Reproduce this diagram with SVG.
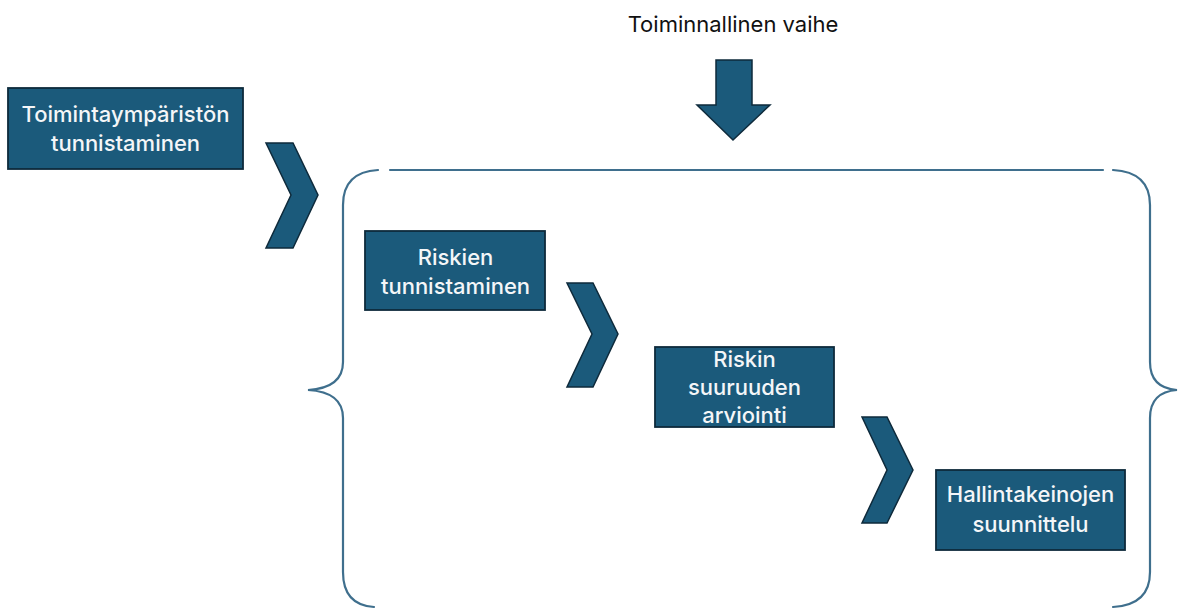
<svg xmlns="http://www.w3.org/2000/svg" width="1179" height="610" viewBox="0 0 1179 610">
<style>
.box{fill:#1b5a7b;stroke:#0e2a3b;stroke-width:1.8}
.chev{fill:#1b5a7b;stroke:#0e2a3b;stroke-width:1.5;stroke-linejoin:miter}
.lbl{font-family:Inter,"Liberation Sans",Arial,sans-serif;font-size:22px;font-weight:500;fill:#f4f6f8;text-anchor:middle}
.title{font-family:Inter,"Liberation Sans",Arial,sans-serif;font-size:22px;fill:#111;text-anchor:middle}
.brace{fill:none;stroke:#3f6f8d;stroke-width:2.2;stroke-linecap:round}
</style>
<rect width="1179" height="610" fill="#ffffff"/>
<text class="title" x="733" y="32">Toiminnallinen vaihe</text>
<g id="connectors">
  <polygon class="chev" points="716,60 752,60 752,105 770,105 733,140 697,105 716,105"/>
  <polygon class="chev" points="266,143 293,143 318,195 293,248 266,248 291,195"/>
  <polygon class="chev" points="567,283 593,283 618,334 593,387 567,387 592,334"/>
  <polygon class="chev" points="862,417 887,417 913,470 887,523 862,523 887,470"/>
</g>
<g id="bracket">
  <path class="brace" d="M390,170 L1103,170"/>
  <path class="brace" d="M378,170 Q343,172 343,205 L343,362 Q343,388 308,390 Q343,392 343,418 L343,572 Q343,605 374,607"/>
  <path class="brace" d="M1113,170 Q1150,172 1150,205 L1150,362 Q1150,388 1177,390 Q1150,392 1150,418 L1150,572 Q1150,605 1113,607"/>
</g>
<g id="node-toimintaymparisto">
  <rect class="box" x="8" y="88" width="235" height="81"/>
  <text class="lbl" x="125.5" y="122">Toimintaympäristön</text>
  <text class="lbl" x="125.5" y="151">tunnistaminen</text>
</g>
<g id="node-riskien-tunnistaminen">
  <rect class="box" x="365" y="231" width="180" height="79"/>
  <text class="lbl" x="455.5" y="265">Riskien</text>
  <text class="lbl" x="455.5" y="294">tunnistaminen</text>
</g>
<g id="node-riskin-suuruus">
  <rect class="box" x="655" y="347" width="179" height="80"/>
  <text class="lbl" x="744.5" y="367">Riskin</text>
  <text class="lbl" x="744.5" y="395">suuruuden</text>
  <text class="lbl" x="744.5" y="423">arviointi</text>
</g>
<g id="node-hallintakeinot">
  <rect class="box" x="936" y="470" width="189" height="80"/>
  <text class="lbl" x="1030.5" y="502">Hallintakeinojen</text>
  <text class="lbl" x="1030.5" y="532">suunnittelu</text>
</g>
</svg>
